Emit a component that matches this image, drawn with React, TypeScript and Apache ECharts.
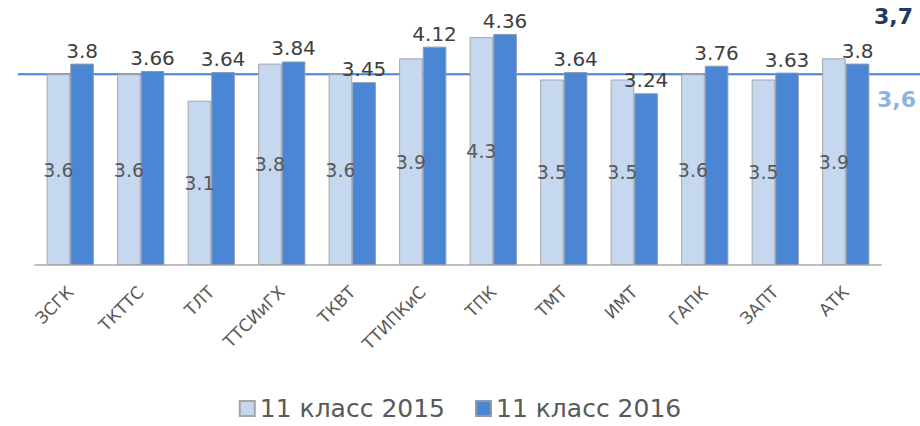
import React, { useEffect, useRef } from "react";
import * as echarts from "echarts";

const categories = ["ЗСГК", "ТКТТС", "ТЛТ", "ТТСИиГХ", "ТКВТ", "ТТИПКиС", "ТПК", "ТМТ", "ИМТ", "ГАПК", "ЗАПТ", "АТК"];
const values2015 = [3.6, 3.6, 3.1, 3.8, 3.6, 3.9, 4.3, 3.5, 3.5, 3.6, 3.5, 3.9];
const values2016 = [3.8, 3.66, 3.64, 3.84, 3.45, 4.12, 4.36, 3.64, 3.24, 3.76, 3.63, 3.8];
const seriesNames = ["11 класс 2015", "11 класс 2016"];
const referenceLevel = 3.6;
const averageLabels = ["3,7", "3,6"];

const FONT = "'DejaVu Sans', Verdana, sans-serif";

export default function App() {
  const ref = useRef<HTMLDivElement>(null);
  useEffect(() => {
    if (!ref.current) return;
    const chart = echarts.init(ref.current, undefined, { renderer: "svg" });
    chart.setOption({
      animation: false,
      textStyle: { fontFamily: FONT },
      grid: [
        { left: 35, right: 39, top: 0, bottom: 161 },
        { left: 18, right: 0, top: 0, bottom: 161 },
      ],
      xAxis: [
        {
          type: "category",
          gridIndex: 0,
          data: categories,
          axisLine: { lineStyle: { color: "#bfbfbf", width: 2 } },
          axisTick: { show: false },
          axisLabel: { rotate: 45, interval: 0, fontSize: 17, color: "#595959", margin: 24, fontFamily: FONT },
        },
        { type: "value", gridIndex: 1, min: 0, max: 1, show: false },
      ],
      yAxis: [
        { type: "value", gridIndex: 0, min: 0, max: 5, show: false },
        { type: "value", gridIndex: 1, min: 0, max: 5, show: false },
      ],
      legend: {
        data: seriesNames,
        bottom: 0,
        left: "center",
        itemWidth: 15,
        itemHeight: 15,
        itemGap: 30,
        icon: "rect",
        textStyle: { fontSize: 25, color: "#595959", fontFamily: FONT },
      },
      series: [
        {
          type: "line",
          xAxisIndex: 1,
          yAxisIndex: 1,
          data: [[0, referenceLevel], [1, referenceLevel]],
          symbol: "none",
          lineStyle: { color: "#4a7fd0", width: 2 },
          z: 1,
          silent: true,
        },
        {
          name: seriesNames[0],
          type: "bar",
          data: values2015,
          barGap: "0%",
          barCategoryGap: "33%",
          z: 3,
          itemStyle: { color: "#c5d8f0", borderColor: "#a6a6a6", borderWidth: 1 },
          label: {
            show: true,
            position: "inside",
            fontSize: 19,
            color: "#595959",
            fontFamily: FONT,
          },
        },
        {
          name: seriesNames[1],
          type: "bar",
          data: values2016,
          z: 3,
          itemStyle: { color: "#4a86d4", borderColor: "#8c9bb0", borderWidth: 1 },
          label: {
            show: true,
            position: "top",
            distance: 3,
            fontSize: 20,
            color: "#404040",
            fontFamily: FONT,
          },
        },
      ],
      graphic: [
        {
          type: "text",
          right: 7,
          top: 5,
          style: { text: averageLabels[0], font: `bold 22px ${FONT}`, fill: "#1f3864" },
        },
        {
          type: "text",
          right: 4,
          top: 88,
          style: { text: averageLabels[1], font: `bold 22px ${FONT}`, fill: "#8db3e2" },
        },
      ],
    });
    return () => chart.dispose();
  }, []);
  return <div ref={ref} style={{ position: "absolute", left: 0, top: 0, width: 920, height: 426 }} />;
}
